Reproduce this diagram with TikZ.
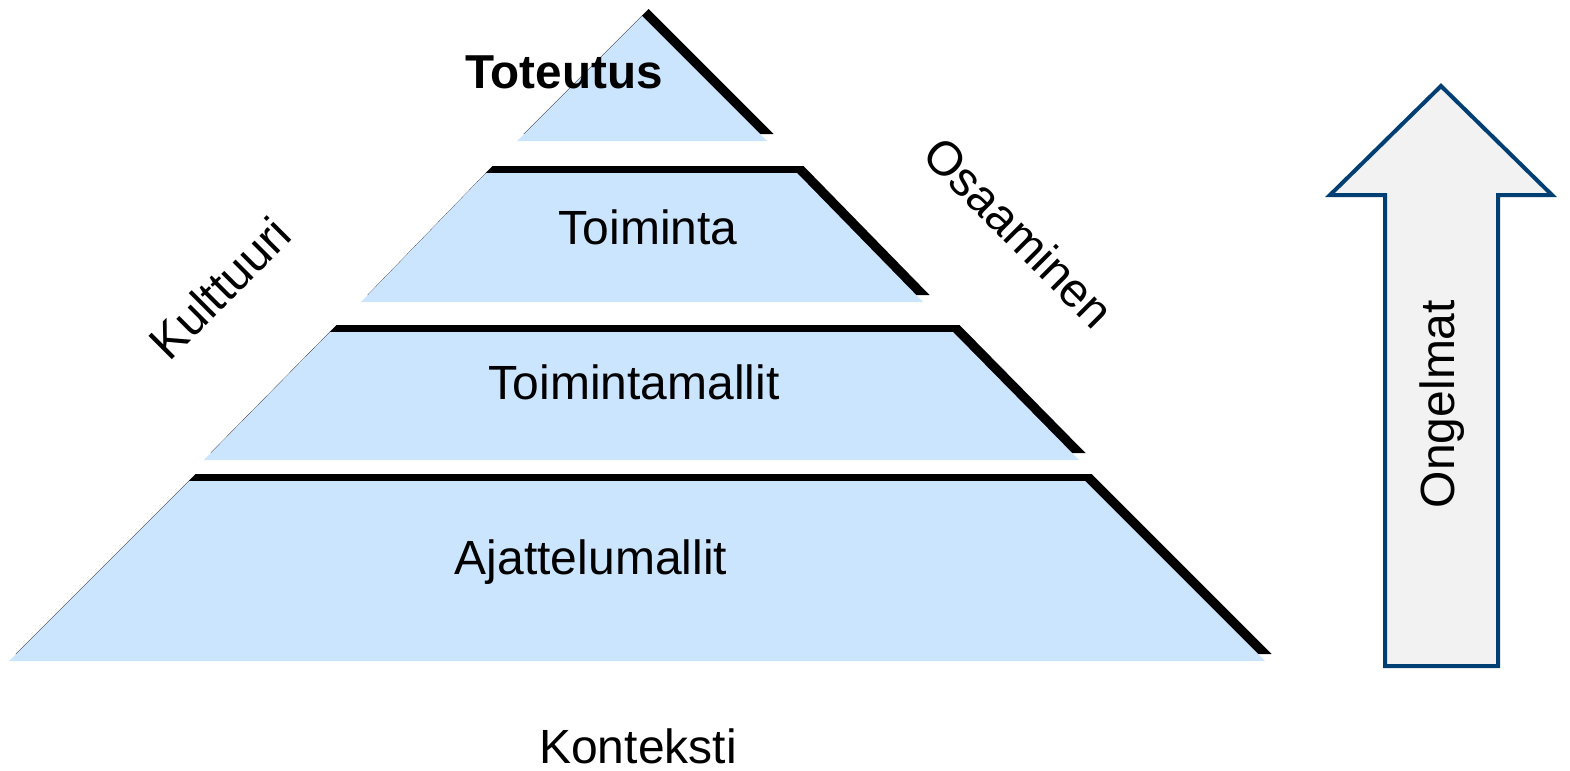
\documentclass[tikz,border=0pt]{standalone}
\usepackage{fontspec}
\setmainfont{Liberation Sans}
\usetikzlibrary{positioning}
\definecolor{Sky}{HTML}{CCE5FF}
\definecolor{Navy}{HTML}{003F73}
\definecolor{Mist}{HTML}{F2F2F2}

\begin{document}
\begin{tikzpicture}[
  x=0.5pt,y=-0.5pt,
  layer/.style={fill=Sky},
  rim/.style={fill=black,shift={(6.5,-7)}},
  tier/.style={font=\fontsize{24}{28}\selectfont,anchor=base},
  side/.style={font=\fontsize{24}{28}\selectfont,anchor=center},
  bigarrow/.style={draw=Navy,line width=2pt,fill=Mist,line join=miter}
]
  \useasboundingbox (0,0) rectangle (1570,771);
  % pyramid, top to bottom
  \fill[rim] (642,16) -- (767,141) -- (517,141) -- cycle;
  \fill[layer] (642,16) -- (767,141) -- (517,141) -- cycle;
  \fill[rim] (486,173) -- (797,173) -- (923,302) -- (361,302) -- cycle;
  \fill[layer] (486,173) -- (797,173) -- (923,302) -- (361,302) -- cycle;
  \fill[rim] (330,332) -- (953,332) -- (1079,460) -- (204,460) -- cycle;
  \fill[layer] (330,332) -- (953,332) -- (1079,460) -- (204,460) -- cycle;
  \fill[rim] (189,481) -- (1085,481) -- (1265,661) -- (9,661) -- cycle;
  \fill[layer] (189,481) -- (1085,481) -- (1265,661) -- (9,661) -- cycle;
  % tier labels
  \node[tier,font=\fontsize{23.8}{28}\selectfont\bfseries] (toteutus) at (564,88) {Toteutus};
  \node[tier] (toiminta) at (648,244) {Toiminta};
  \node[tier] (toimintamallit) at (634,399) {Toimintamallit};
  \node[tier] (ajattelumallit) at (591,574) {Ajattelumallit};
  \node[tier] (konteksti) at (638,763) {Konteksti};
  % side labels
  \node[side,rotate=45] (kulttuuri) at (220,288) {Kulttuuri};
  \node[side,rotate=-45] (osaaminen) at (1019,232) {Osaaminen};
  % problems arrow
  \draw[bigarrow] (1441,86) -- (1552,195) -- (1498,195) -- (1498,666)
    -- (1385,666) -- (1385,195) -- (1330,195) -- cycle;
  \node[side,rotate=90] (ongelmat) at (1442,404) {Ongelmat};
\end{tikzpicture}
\end{document}
